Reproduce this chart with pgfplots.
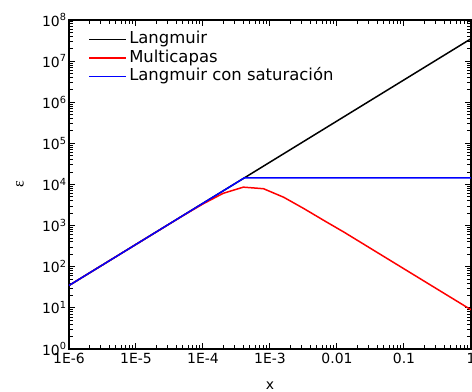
\documentclass[border=0pt]{standalone}
\usepackage{fontspec}
\setmainfont{DejaVu Sans}
\newfontfamily\greekserif{Liberation Serif}
\usepackage{pgfplots}
\pgfplotsset{compat=1.18}

\begin{document}
\begin{tikzpicture}
\begin{axis}[
  scale only axis,
  width=402bp, height=329bp,
  xmode=log, ymode=log,
  xmin=1e-6, xmax=1,
  ymin=1, ymax=1e8,
  xtick={1e-6,1e-5,1e-4,1e-3,1e-2,1e-1,1},
  xticklabels={1E-6,1E-5,1E-4,1E-3,0.01,0.1,1},
  ytick={1,10,100,1e3,1e4,1e5,1e6,1e7,1e8},
  yticklabels={10\textsuperscript{0},10\textsuperscript{1},10\textsuperscript{2},10\textsuperscript{3},10\textsuperscript{4},10\textsuperscript{5},10\textsuperscript{6},10\textsuperscript{7},10\textsuperscript{8}},
  tick align=inside,
  major tick length=6bp,
  minor tick length=4bp,
  every tick/.style={line width=1pt, black},
  axis line style={line width=1.6pt},
  ticklabel style={font=\fontsize{14}{16}\selectfont},
  xticklabel style={yshift=-1bp},
  yticklabel style={xshift=1bp},
  xlabel={x},
  ylabel={\greekserif ε},
  xlabel style={font=\fontsize{14}{16}\selectfont, yshift=-11bp},
  every axis y label/.style={
    at={(axis description cs:-0.122,0.5)}, anchor=center, rotate=90,
    font=\fontsize{16}{18}\selectfont},
  legend cell align=left,
  legend style={
    at={(0.04,0.976)}, anchor=north west,
    draw=none, fill=none,
    font=\fontsize{16.5}{18.5}\selectfont,
    row sep=0pt, column sep=2bp,
    nodes={inner sep=0.5bp, text height=13bp, text depth=4.5bp},
  },
  legend image code/.code={\draw[#1] (0bp,0bp) -- (37bp,0bp);},
]
% Langmuir isotherm: epsilon proportional to x
\addplot[black, line width=1.5pt] coordinates {
  (1e-6,35) (1,3.5e7)
};
\addlegendentry{Langmuir}
% Multilayer model
\addplot[red, line width=1.5pt] coordinates {
  (1e-6,35) (1e-5,350) (5e-5,1740) (1e-4,3370) (2e-4,6100)
  (4e-4,8620) (8e-4,7900) (1.6e-3,4900) (3.2e-3,2600)
  (6.4e-3,1330) (1.28e-2,690) (0.1,89) (1,9)
};
\addlegendentry{Multicapas}
% Langmuir with saturation
\addplot[blue, line width=1.5pt] coordinates {
  (1e-6,35) (4.14e-4,1.45e4) (1,1.45e4)
};
\addlegendentry{Langmuir con saturación}
\end{axis}
\pgfresetboundingbox
\path (current axis.south west) ++(-69bp,-43bp) coordinate (bl);
\path (current axis.north east) ++(1bp,20bp) coordinate (tr);
\useasboundingbox (bl) rectangle (tr);
\end{tikzpicture}
\end{document}
